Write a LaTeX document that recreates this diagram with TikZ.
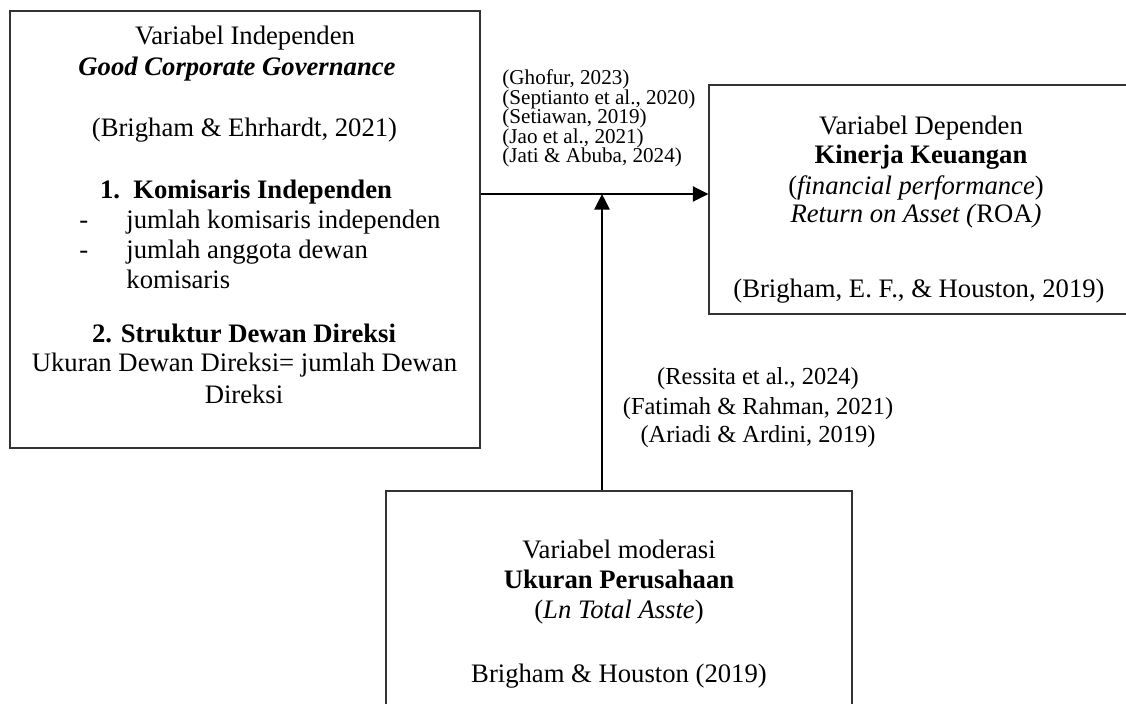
\documentclass[tikz,border=0pt]{standalone}
\usepackage{fontspec}
\setmainfont{Liberation Serif}
\usetikzlibrary{arrows.meta}

\begin{document}
\begin{tikzpicture}[
	x=0.45pt, y=-0.45pt,
	Box/.style={draw=black!80, line width=0.6pt, inner sep=0pt},
	Txt/.style={font=\fontsize{12}{14}\selectfont, inner sep=0pt, anchor=base},
	TxtL/.style={Txt, anchor=base west},
	CiteMid/.style={font=\fontsize{11}{13}\selectfont, inner sep=0pt, anchor=base},
	CiteSmall/.style={font=\fontsize{9.5}{9}\selectfont, inner sep=0pt, anchor=base west},
	Arr/.style={line width=1pt, -{Triangle[length=7pt, width=6.8pt]}}
	]
	
	\useasboundingbox (0,0) rectangle (1126,704);
	
	\path
	(245,229.5) node [Box, minimum width=211.5pt, minimum height=196.65pt] (GCG) {}
	(922.5,199.5) node [Box, minimum width=192.15pt, minimum height=103.05pt] (KK) {}
	(619,603) node [Box, minimum width=209.7pt, minimum height=100.8pt] (UP) {};
	
	\path
	(245,45) node [Txt] (GCGa) {Variabel Independen}
	(237,76) node [Txt] (GCGb) {\textbf{\textit{Good Corporate Governance}}}
	(244.5,137) node [Txt] (GCGc) {(Brigham \& Ehrhardt, 2021)}
	(246,199) node [Txt] (GCGd) {\textbf{1.\ \ Komisaris Independen}}
	(79,229) node [TxtL] (GCGe) {-}
	(126,229) node [TxtL] (GCGf) {jumlah komisaris independen}
	(79,259) node [TxtL] (GCGg) {-}
	(126,259) node [TxtL] (GCGh) {jumlah anggota dewan}
	(126,289) node [TxtL] (GCGi) {komisaris}
	(244,343) node [Txt] (GCGj) {\textbf{2. Struktur Dewan Direksi}}
	(244.5,372) node [Txt] (GCGk) {Ukuran Dewan Direksi= jumlah Dewan}
	(244,403) node [Txt] (GCGl) {Direksi};
	
	\path
	(921,135) node [Txt] (KKa) {Variabel Dependen}
	(921,164) node [Txt] (KKb) {\textbf{Kinerja Keuangan}}
	(916,195) node [Txt] (KKc) {(\textit{financial performance})}
	(916,223) node [Txt] (KKd) {\textit{Return on Asset (}ROA\textit{)}}
	(919,298) node [Txt] (KKe) {(Brigham, E. F., \& Houston, 2019)};
	
	\path
	(619,558) node [Txt] (UPa) {Variabel moderasi}
	(619,588) node [Txt] (UPb) {\textbf{Ukuran Perusahaan}}
	(619,618) node [Txt] (UPc) {(\textit{Ln Total Asste})}
	(619,682) node [Txt] (UPd) {Brigham \& Houston (2019)};
	
	\path
	(502,85) node [CiteSmall] (Ca) {(Ghofur, 2023)}
	(502,104.5) node [CiteSmall] (Cb) {(Septianto et al., 2020)}
	(502,124) node [CiteSmall] (Cc) {(Setiawan, 2019)}
	(502,143.5) node [CiteSmall] (Cd) {(Jao et al., 2021)}
	(502,163) node [CiteSmall] (Ce) {(Jati \& Abuba, 2024)}
	(758,385) node [CiteMid] (Cf) {(Ressita et al., 2024)}
	(758,415) node [CiteMid] (Cg) {(Fatimah \& Rahman, 2021)}
	(758,443) node [CiteMid] (Ch) {(Ariadi \& Ardini, 2019)};
	
	\coordinate (J) at (602,194);
	
	\draw [Arr] (GCG.east |- J) -- (KK.west |- J);
	\draw [Arr] (UP.north -| J) -- (J);
\end{tikzpicture}
\end{document}
